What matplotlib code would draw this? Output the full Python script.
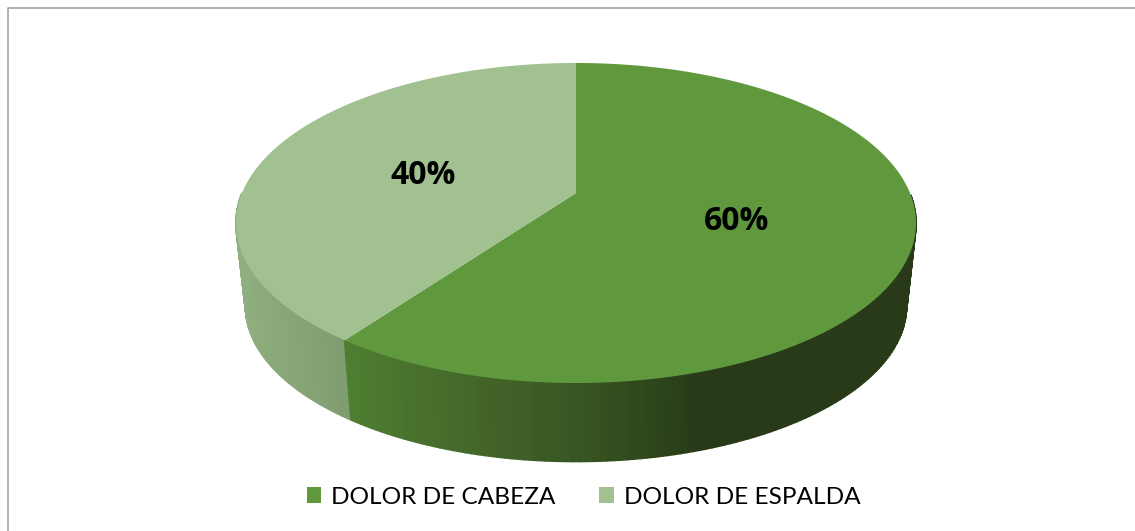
import numpy as np
import matplotlib
matplotlib.use("Agg")
import matplotlib.pyplot as plt
from matplotlib.transforms import Transform
from matplotlib.path import Path
from matplotlib.collections import PolyCollection
from matplotlib.colors import LinearSegmentedColormap
from matplotlib.patches import Patch
from matplotlib.lines import Line2D

# ---- data ----
categories = ["DOLOR DE CABEZA", "DOLOR DE ESPALDA"]
values = [60, 40]
value_labels = ["60%", "40%"]
top_colors = ["#5F983D", "#A1C290"]

# ---- perspective view of the pie disc (figure pixels) ----
W, H = 1135, 531
CX, CY = 576.0, 193.0
A, B, K = 334.0, 154.4, 0.1875
TAPER, DROP = 0.972, 83.8


class DiscView(Transform):
    input_dims = output_dims = 2
    has_inverse = False
    is_separable = False

    def transform_non_affine(self, xy):
        xy = np.asarray(xy, float)
        d = 1 + K * xy[:, 1]
        return np.column_stack([CX + A * xy[:, 0] / d, CY - B * xy[:, 1] / d])

    def transform_path_non_affine(self, path):
        pts = []
        for curve, code in path.iter_bezier():
            if code == Path.MOVETO:
                pts.append(curve.control_points[0])
            else:
                pts.extend(curve(np.linspace(0, 1, 120)[1:]))
        return Path(self.transform_non_affine(np.array(pts)), closed=True)


view = DiscView()


def lower(p):
    return np.column_stack([CX + TAPER * (p[:, 0] - CX),
                            CY + DROP + TAPER * (p[:, 1] - CY)])


def rim(deg):
    t = np.radians(deg)
    return view.transform_non_affine(np.column_stack([np.cos(t), np.sin(t)]))


plt.rcParams["font.family"] = ["Lato", "DejaVu Sans"]
fig = plt.figure(figsize=(W / 100, H / 100), dpi=100, facecolor="white")
ax = fig.add_axes([0, 0, 1, 1])

wedges, _ = ax.pie(values, colors=top_colors, startangle=90, counterclock=False,
                   wedgeprops={"linewidth": 0, "zorder": 5})
ax.set_aspect("auto")
ax.set_xlim(0, W)
ax.set_ylim(H, 0)
ax.axis("off")
for w in wedges:
    w.set_transform(view + ax.transData)
    w.set_clip_on(False)

# side wall, shaded along x, one strip per small angle step
light_cmap = LinearSegmentedColormap.from_list("l", [(0, "#8FAF7E"), (1, "#7F9C70")])
dark_cmap = LinearSegmentedColormap.from_list(
    "d", [(0, "#4E7E30"), (0.35, "#44672A"), (0.747, "#34501F"), (1, "#283A18")])

th = 90 - 360 * np.cumsum([0] + values) / sum(values)
for i, c in enumerate(categories):
    a = np.linspace(th[i], th[i + 1], 220)
    a = a[np.sin(np.radians(a)) < 0.0]
    top = rim(a)
    bot = lower(top)
    quads = [np.array([top[j], top[j + 1], bot[j + 1], bot[j]]) for j in range(len(a) - 1)]
    xm = 0.5 * (top[:-1, 0] + top[1:, 0])
    if i == 0:
        cols = dark_cmap(np.clip((xm - 345) / (700 - 345), 0, 1))
    else:
        cols = light_cmap(np.clip((xm - 237) / (345 - 237), 0, 1))
    ax.add_collection(PolyCollection(quads, facecolors=cols, edgecolors=cols,
                                     linewidths=1.2, zorder=2 + (1 - i)))

# data labels
label_pos = [(737, 222), (423, 175)]
for txt, (x, y) in zip(value_labels, label_pos):
    ax.text(x, y, txt, ha="center", va="center", fontsize=23, fontweight="bold",
            family=["Open Sans", "DejaVu Sans"], color="black", zorder=6)

# chart frame
ax.add_line(Line2D([7.5, 7.5, W], [H, 7.5, 7.5], color="#A6A6A6", lw=1.2, zorder=1))

# legend
handles = [Patch(facecolor=col, edgecolor="none") for col in top_colors]
fig.legend(handles, categories, loc="center", bbox_to_anchor=(583.5 / W, 1 - 497 / H),
           ncol=2, frameon=False, fontsize=17.6, handlelength=0.61, handleheight=0.61,
           handletextpad=0.41, columnspacing=1.76, labelcolor="black")

fig.savefig("out.png", dpi=100)
